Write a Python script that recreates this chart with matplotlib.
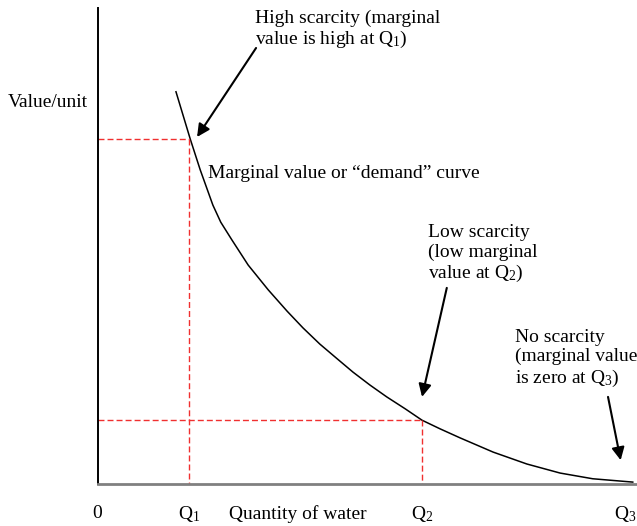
import numpy as np
import matplotlib
matplotlib.use("Agg")
import matplotlib.pyplot as plt

plt.rcParams['font.family'] = ['Liberation Serif', 'DejaVu Serif']
plt.rcParams['mathtext.fontset'] = 'custom'
plt.rcParams['mathtext.rm'] = 'Liberation Serif'
plt.rcParams['mathtext.it'] = 'Liberation Serif:italic'

# demand curve (quantity, value/unit)
curve_q = [1.48, 1.75, 1.94, 2.18, 2.33, 2.54, 2.85, 3.23, 3.59, 3.89, 4.21, 4.54, 4.84,
           5.16, 5.48, 5.83, 6.15, 6.49, 6.87, 7.50, 8.14, 8.77, 9.39, 10.15]
curve_v = [8.24, 7.25, 6.60, 5.86, 5.50, 5.13, 4.60, 4.08, 3.63, 3.28, 2.94, 2.63, 2.35,
           2.08, 1.83, 1.58, 1.34, 1.16, 0.97, 0.67, 0.42, 0.23, 0.11, 0.04]

# marked quantities and their marginal values
q_marks = [1.73, 6.15, 10.0]
v_marks = [7.25, 1.34, 0.0]
q_labels = ['Q$_1$', 'Q$_2$', 'Q$_3$']

fs = 14
fig = plt.figure(figsize=(6.37, 5.26), dpi=100)
ax = fig.add_axes([98/637, 42/526, 539/637, 476/526])
ax.set_xlim(0, 10.23)
ax.set_ylim(0, 10)
ax.set_xticks([])
ax.set_yticks([])
ax.spines['top'].set_visible(False)
ax.spines['right'].set_visible(False)
ax.spines['left'].set_color('black')
ax.spines['left'].set_linewidth(1.4)
ax.spines['bottom'].set_color('#808080')
ax.spines['bottom'].set_linewidth(2)

ax.plot(curve_q, curve_v, color='black', lw=1.1, solid_joinstyle='round', clip_on=False)

# dashed guides for Q1 and Q2
red = '#f03030'
for q, v in zip(q_marks[:2], v_marks[:2]):
    ax.plot([0, q], [v, v], color=red, lw=1.0, dashes=(4.3, 2.2))
    ax.plot([q, q], [v, 0], color=red, lw=1.0, dashes=(4.3, 2.2))

# axis labels
ax.text(-1.71, 8.02, 'Value/unit', fontsize=fs, ha='left', va='center', clip_on=False)
ax.text(-0.02, -0.63, '0', fontsize=fs, ha='center', va='center', clip_on=False)
for q, lab in zip(q_marks, q_labels):
    ax.text(q, -0.63, lab, fontsize=fs, ha='center', va='center', clip_on=False)
ax.text(2.49, -0.63, 'Quantity of water', fontsize=fs, ha='left', va='center', clip_on=False)

ax.text(2.09, 6.53, 'Marginal value or \u201cdemand\u201d curve', fontsize=fs,
        ha='left', va='center')

arrow = dict(arrowstyle='-|>', color='black', lw=1.5, mutation_scale=19,
             shrinkA=0, shrinkB=0)

ax.annotate('', xy=(1.88, 7.29), xytext=(3.00, 9.16), arrowprops=arrow)
ax.text(2.98, 9.54, 'High scarcity (marginal\nvalue is high at Q$_1$)', fontsize=fs,
        ha='left', va='center', linespacing=1.15, clip_on=False)

ax.annotate('', xy=(6.15, 1.83), xytext=(6.62, 4.12), arrowprops=arrow)
ax.text(6.26, 4.83, 'Low scarcity\n(low marginal\nvalue at Q$_2$)', fontsize=fs,
        ha='left', va='center', linespacing=1.15, clip_on=False)

ax.annotate('', xy=(9.92, 0.50), xytext=(9.68, 1.83), arrowprops=arrow)
ax.text(7.91, 2.63, 'No scarcity\n(marginal value\nis zero at Q$_3$)', fontsize=fs,
        ha='left', va='center', linespacing=1.15, clip_on=False)

fig.savefig('out.png', dpi=100)
